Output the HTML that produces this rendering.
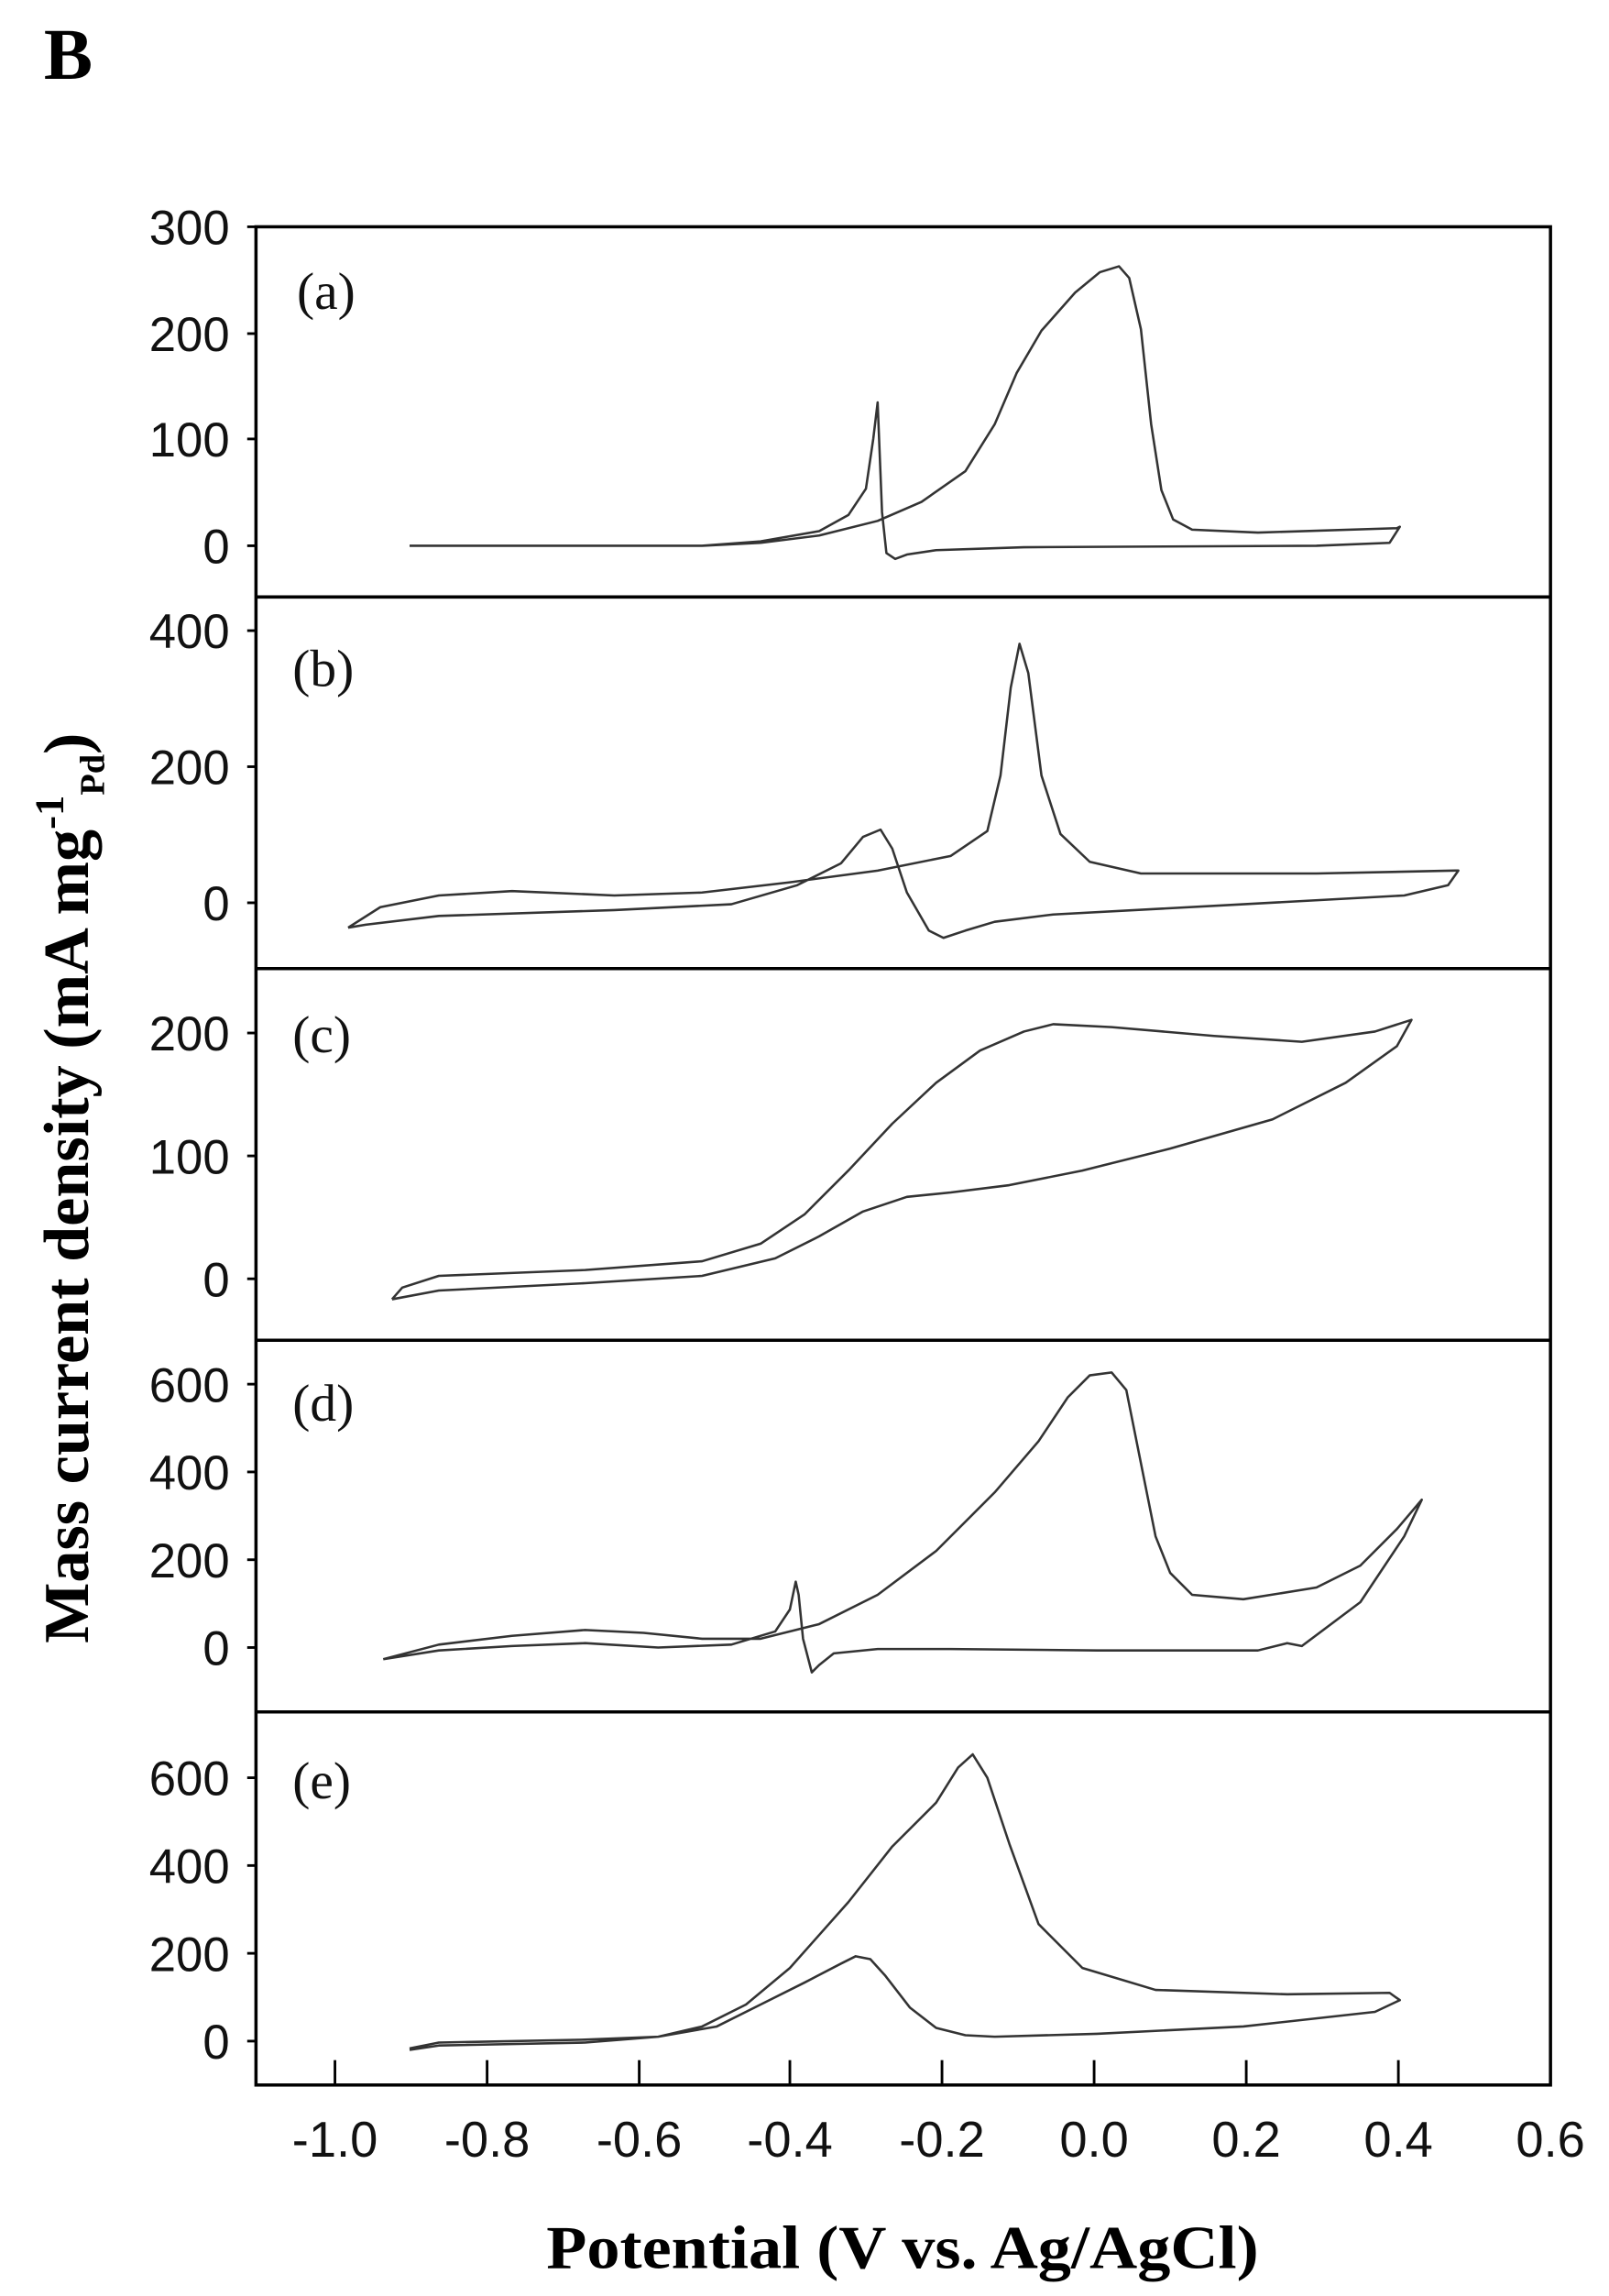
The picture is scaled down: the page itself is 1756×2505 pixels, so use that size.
<!DOCTYPE html>
<html><head><meta charset="utf-8"><style>html,body{margin:0;padding:0;background:#fff}svg{display:block}</style></head>
<body>
<svg width="1756" height="2505" viewBox="0 0 1100 1569.2" preserveAspectRatio="none" xmlns="http://www.w3.org/2000/svg">
<text x="30" y="54" font-family="Liberation Serif, serif" font-weight="bold" font-size="50">B</text>
<g fill="none" stroke="#000" stroke-width="2.2">
<rect x="175" y="155" width="885" height="1270"/>
<line x1="175" y1="408" x2="1060" y2="408"/>
<line x1="175" y1="662" x2="1060" y2="662"/>
<line x1="175" y1="916" x2="1060" y2="916"/>
<line x1="175" y1="1170" x2="1060" y2="1170"/>
</g>
<g stroke="#000" stroke-width="1.8">
<line x1="169" y1="155" x2="175" y2="155"/><line x1="169" y1="228" x2="175" y2="228"/><line x1="169" y1="300" x2="175" y2="300"/><line x1="169" y1="373" x2="175" y2="373"/>
<line x1="169" y1="431" x2="175" y2="431"/><line x1="169" y1="524" x2="175" y2="524"/><line x1="169" y1="617" x2="175" y2="617"/>
<line x1="169" y1="706" x2="175" y2="706"/><line x1="169" y1="790" x2="175" y2="790"/><line x1="169" y1="874" x2="175" y2="874"/>
<line x1="169" y1="946" x2="175" y2="946"/><line x1="169" y1="1006" x2="175" y2="1006"/><line x1="169" y1="1066" x2="175" y2="1066"/><line x1="169" y1="1126" x2="175" y2="1126"/>
<line x1="169" y1="1215" x2="175" y2="1215"/><line x1="169" y1="1275" x2="175" y2="1275"/><line x1="169" y1="1335" x2="175" y2="1335"/><line x1="169" y1="1395" x2="175" y2="1395"/>
<line x1="229" y1="1425" x2="229" y2="1408"/><line x1="333" y1="1425" x2="333" y2="1408"/><line x1="437" y1="1425" x2="437" y2="1408"/><line x1="540" y1="1425" x2="540" y2="1408"/><line x1="644" y1="1425" x2="644" y2="1408"/><line x1="748" y1="1425" x2="748" y2="1408"/><line x1="852" y1="1425" x2="852" y2="1408"/><line x1="956" y1="1425" x2="956" y2="1408"/>
</g>
<g font-family="Liberation Sans, sans-serif" font-size="33" text-anchor="end" fill="#111">
<text x="157" y="167">300</text><text x="157" y="240">200</text><text x="157" y="312">100</text><text x="157" y="385">0</text>
<text x="157" y="443">400</text><text x="157" y="536">200</text><text x="157" y="629">0</text>
<text x="157" y="718">200</text><text x="157" y="802">100</text><text x="157" y="886">0</text>
<text x="157" y="958">600</text><text x="157" y="1018">400</text><text x="157" y="1078">200</text><text x="157" y="1138">0</text>
<text x="157" y="1227">600</text><text x="157" y="1287">400</text><text x="157" y="1347">200</text><text x="157" y="1407">0</text>
</g>
<g font-family="Liberation Sans, sans-serif" font-size="34" text-anchor="middle" fill="#111">
<text x="229" y="1474">-1.0</text><text x="333" y="1474">-0.8</text><text x="437" y="1474">-0.6</text><text x="540" y="1474">-0.4</text><text x="644" y="1474">-0.2</text><text x="748" y="1474">0.0</text><text x="852" y="1474">0.2</text><text x="956" y="1474">0.4</text><text x="1060" y="1474">0.6</text>
</g>
<g font-family="Liberation Serif, serif" font-size="36" fill="#111">
<text x="203" y="211">(a)</text><text x="200" y="469">(b)</text><text x="200" y="719">(c)</text><text x="200" y="971">(d)</text><text x="200" y="1229">(e)</text>
</g>
<text x="617" y="1550" text-anchor="middle" font-family="Liberation Serif, serif" font-weight="bold" font-size="42" textLength="487" lengthAdjust="spacingAndGlyphs">Potential (V vs. Ag/AgCl)</text>
<text transform="translate(60,812) rotate(-90)" text-anchor="middle" font-family="Liberation Serif, serif" font-weight="bold" font-size="44">Mass current density (mA mg<tspan dy="-17" font-size="28">-1</tspan><tspan dy="28" font-size="24">Pd</tspan><tspan dy="-11">)</tspan></text>
<g fill="none" stroke="#333" stroke-width="1.6" stroke-linejoin="round">
<polyline points="280,373 480,373 520,371 560,366 600,356 630,343 660,322 680,290 695,255 712,226 735,200 752,186 765,182 772,190 780,225 787,290 794,335 802,355 815,362 860,364 955,361 957,360 950,371 900,373 700,374 640,376 620,379 612,382 606,378 603,350 601,300 600,275 597,300 592,334 580,352 560,363 520,370 480,373 280,373"/>
<polyline points="238,634 260,620 300,612 350,609 420,612 480,610 540,603 600,595 650,585 675,568 684,530 691,470 697,440 703,460 712,530 725,570 745,589 780,597 900,597 995,595 997,595 990,605 960,612 850,618 720,625 680,630 660,636 645,641 635,636 620,610 610,580 602,567 590,572 575,590 545,605 500,618 420,622 300,626 250,632 238,634"/>
<polyline points="268,888 275,880 300,872 400,868 480,862 520,850 550,830 580,800 610,768 640,740 670,718 700,705 720,700 760,702 830,708 890,712 940,705 965,697 955,715 920,740 870,765 800,785 740,800 690,810 650,815 620,818 590,828 560,845 530,860 480,872 400,877 300,882 268,888"/>
<polyline points="262,1134 300,1124 350,1118 400,1114 440,1116 480,1120 520,1120 560,1110 600,1090 640,1060 680,1020 710,985 730,955 745,940 760,938 770,950 780,1000 790,1050 800,1075 815,1090 850,1093 900,1085 930,1070 955,1045 972,1025 960,1050 930,1095 890,1125 880,1123 860,1128 750,1128 650,1127 600,1127 570,1130 560,1138 555,1143 549,1120 546,1090 544,1081 540,1100 530,1115 500,1124 450,1126 400,1123 350,1125 300,1128 262,1134"/>
<polyline points="280,1400 300,1396 400,1394 450,1392 480,1385 510,1370 540,1345 580,1300 610,1262 640,1232 655,1208 665,1199 675,1215 690,1260 710,1315 740,1345 790,1360 880,1363 950,1362 957,1367 940,1375 850,1385 750,1390 680,1392 660,1391 640,1386 622,1372 605,1350 595,1339 585,1337 575,1342 550,1355 520,1370 490,1385 450,1392 400,1396 300,1398 280,1401"/>
</g>
</svg>
</body></html>
